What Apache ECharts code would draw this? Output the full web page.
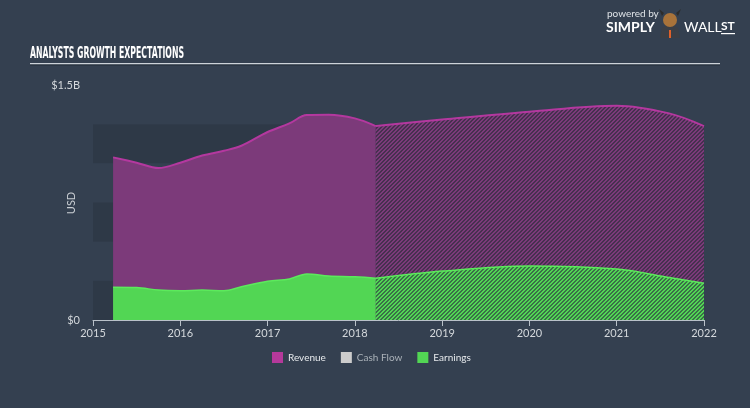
<!DOCTYPE html>
<html><head><meta charset="utf-8">
<script src="https://cdn.jsdelivr.net/npm/echarts@6/dist/echarts.min.js"></script>
<style>html,body{margin:0;padding:0;background:#344050;}#c{width:750px;height:408px;}</style>
</head><body><div id="c"></div>
<script>
// ---- data (values in billions USD, x in decimal years) ----
const actualDates      = [2015.23, 2015.5, 2015.75, 2016.0, 2016.25, 2016.5, 2016.7, 2017.0, 2017.25, 2017.45, 2017.7, 2018.0, 2018.24];
const revenueActual    = [1.038, 1.004, 0.970, 1.004, 1.050, 1.080, 1.112, 1.200, 1.255, 1.308, 1.310, 1.287, 1.238];
const earningsActual   = [0.209, 0.207, 0.191, 0.187, 0.191, 0.187, 0.212, 0.247, 0.262, 0.294, 0.281, 0.276, 0.266];
const estimateDates    = [2018.24, 2019.0, 2020.0, 2021.0, 2021.6, 2022.0];
const revenueEstimate  = [1.238, 1.280, 1.330, 1.368, 1.319, 1.238];
const earningsEstimate = [0.266, 0.312, 0.345, 0.325, 0.272, 0.234];
const cashFlow         = [];
const legendNames      = ['Revenue', 'Cash Flow', 'Earnings'];
const yLabelValues     = {0: '$0', 1.5: '$1.5B'};

const zip = (xs, ys) => xs.map((x, i) => [x, ys[i]]);

function hatch(base, dark) {
  const c = document.createElement('canvas');
  c.width = 4; c.height = 4;
  const g = c.getContext('2d');
  g.fillStyle = base; g.fillRect(0, 0, 4, 4);
  g.fillStyle = dark;
  for (let i = 0; i < 4; i++) { g.fillRect(i, 3 - i, 1, 1); g.fillRect(i, (4 - i) % 4, 1, 1); }
  return c;
}

const REV_FILL = '#7c3a7a', REV_LINE = '#b4389f', REV_LEG = '#b5399b';
const EAR_FILL = '#52d654', EAR_LINE = '#5cea5c';
const FONT = 'Lato';

function measure(text, font) {
  const c = document.createElement('canvas').getContext('2d');
  c.font = font; return c.measureText(text).width;
}
const titleFont = 'bold 16px "Liberation Sans Narrow", "DejaVu Sans", sans-serif';
const titleText = 'ANALYSTS GROWTH EXPECTATIONS';
const titleScale = 154 / measure(titleText, titleFont);

const chart = echarts.init(document.getElementById('c'));
const areaSeries = (name, data, fill, line, lw) => ({
  name, type: 'line', data, smooth: 0.35, symbol: 'none',
  lineStyle: { color: line, width: lw },
  itemStyle: { color: line },
  areaStyle: { color: fill, opacity: 1 },
  emphasis: { disabled: true }, silent: true
});

chart.setOption({
  backgroundColor: '#344050',
  animation: false,
  textStyle: { fontFamily: FONT },
  grid: { left: 93, right: 46, top: 85, bottom: 88 },
  xAxis: {
    type: 'value', min: 2015, max: 2022, interval: 1,
    axisLine: { lineStyle: { color: '#b9c1c9', width: 1 } },
    axisTick: { show: true, length: 6, lineStyle: { color: '#b9c1c9' } },
    splitLine: { show: false },
    axisLabel: { color: '#d4d8dc', fontSize: 11, margin: 8, formatter: v => String(Math.round(v)) }
  },
  yAxis: {
    type: 'value', min: 0, max: 1.5, interval: 0.25,
    axisLine: { show: false }, axisTick: { show: false },
    splitLine: { show: false },
    splitArea: { show: true, areaStyle: { color: ['rgba(0,0,0,0.10)', 'rgba(0,0,0,0)'] } },
    axisLabel: { color: '#d4d8dc', fontSize: 11, margin: 13,
      formatter: v => (yLabelValues[v] !== undefined ? yLabelValues[v] : '') }
  },
  legend: {
    top: 352, left: 272, padding: 0, itemWidth: 11, itemHeight: 11, itemGap: 15, icon: 'rect',
    textStyle: { color: '#e6e9ec', fontSize: 10, fontFamily: FONT },
    data: [
      { name: legendNames[0], itemStyle: { color: REV_LEG } },
      { name: legendNames[1], itemStyle: { color: '#cccccc' }, textStyle: { color: '#aab1b8' } },
      { name: legendNames[2], itemStyle: { color: EAR_FILL } }
    ],
    selectedMode: false
  },
  series: [
    areaSeries('Revenue', zip(actualDates, revenueActual), REV_FILL, REV_LINE, 2),
    areaSeries('Revenue', zip(estimateDates, revenueEstimate),
      { image: hatch(REV_FILL, '#46304f'), repeat: 'repeat' }, REV_LINE, 2),
    { name: 'Cash Flow', type: 'line', data: cashFlow, itemStyle: { color: '#cccccc' } },
    areaSeries('Earnings', zip(actualDates, earningsActual), EAR_FILL, EAR_LINE, 1.5),
    areaSeries('Earnings', zip(estimateDates, earningsEstimate),
      { image: hatch(EAR_FILL, '#3a7048'), repeat: 'repeat' }, EAR_LINE, 1.5)
  ],
  graphic: [
    { type: 'text', x: 30, y: 46, scaleX: titleScale,
      style: { text: titleText, font: titleFont, fill: '#ffffff' } },
    { type: 'rect', shape: { x: 30, y: 63, width: 690, height: 1.5 }, style: { fill: '#cdd3d9' } },
    { type: 'rect', shape: { x: 30, y: 64.5, width: 690, height: 1 }, style: { fill: '#232c38' } },
    // USD axis name
    { type: 'text', x: 71, y: 203, rotation: Math.PI / 2,
      style: { text: 'USD', fill: '#c8cdd2', font: '11px ' + FONT, align: 'center', verticalAlign: 'middle' } },
    // Actual / Estimated labels
    { type: 'text', x: 244, y: 214, style: { text: 'Actual', fill: '#f0e8f0', font: '11px ' + FONT,
      align: 'center', verticalAlign: 'middle', backgroundColor: 'rgba(38,20,40,0.88)', padding: [3, 3] } },
    { type: 'text', x: 540, y: 214, style: { text: 'Estimated', fill: '#f0e8f0', font: '11px ' + FONT,
      align: 'center', verticalAlign: 'middle', backgroundColor: 'rgba(38,20,40,0.88)', padding: [3, 3] } },
    // logo
    { type: 'text', x: 607, y: 9, style: { text: 'powered by', fill: '#dfe3e7', font: '10px ' + FONT } },
    { type: 'text', x: 606, y: 20, style: { text: 'SIMPLY', fill: '#ffffff', font: 'bold 14px ' + FONT } },
    { type: 'polygon', shape: { points: [[660, 38], [662, 28], [670, 24], [678, 28], [680, 38]] }, style: { fill: '#3b3f46' } },
    { type: 'rect', shape: { x: 669, y: 30, width: 2, height: 8 }, style: { fill: '#e0612a' } },
    { type: 'circle', shape: { cx: 670, cy: 20, r: 7 }, style: { fill: '#a8733a' } },
    { type: 'polygon', shape: { points: [[662, 16], [659, 9], [664, 13]] }, style: { fill: '#2c2c2c' } },
    { type: 'polygon', shape: { points: [[678, 16], [681, 9], [676, 13]] }, style: { fill: '#2c2c2c' } },
    { type: 'text', x: 684, y: 20, style: { text: 'WALL', fill: '#ffffff', font: '14px ' + FONT } },
    { type: 'text', x: 721, y: 20, style: { text: 'ST', fill: '#ffffff', font: 'bold 12px ' + FONT } },
    { type: 'rect', shape: { x: 721, y: 33, width: 14, height: 1.2 }, style: { fill: '#ffffff' } }
  ]
});
</script></body></html>
